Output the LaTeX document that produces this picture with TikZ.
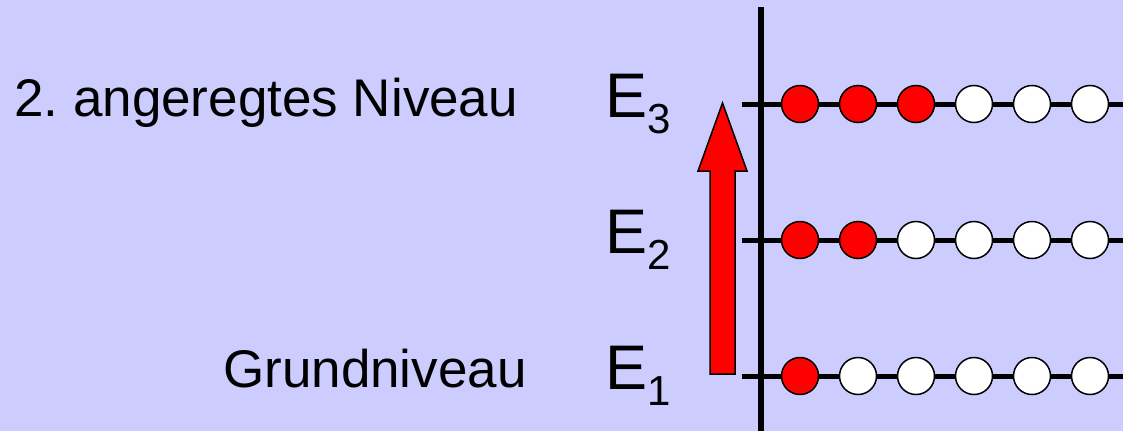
\documentclass[tikz,border=0pt]{standalone}
\usepackage{fontspec}
\setmainfont{Liberation Sans}
\definecolor{bglilac}{HTML}{CCCCFF}
\tikzset{
  dot/.style={circle, draw=black, line width=1.5pt, minimum size=37pt, inner sep=0pt},
  lbl/.style={anchor=base west, inner sep=0pt, font=\fontsize{53}{63}\selectfont},
  elbl/.style={anchor=base west, inner sep=0pt, font=\fontsize{63}{75}\selectfont}
}
\newcommand{\lev}[1]{E\raisebox{-16pt}{\fontsize{42}{50}\selectfont #1}}

\begin{document}
\begin{tikzpicture}[x=1pt,y=-1pt]
\fill[bglilac] (0,0) rectangle (1123,431);
\useasboundingbox (0,0) rectangle (1123,431);
\coordinate (axtop) at (761,7);
\coordinate (axbot) at (761,431);
\draw[line width=5.5pt] (axtop) -- (axbot);
\foreach \l/\y in {1/376,2/240,3/104} {
  \coordinate (h\l) at (742,\y);
  \coordinate (h\l end) at (1123,\y);
  \draw[line width=5pt] (h\l) -- (h\l end);
  \foreach \i in {1,...,6} {
    \ifnum\i>\l \def\col{white}\else\def\col{red}\fi
    \node[dot, fill=\col] (c\l\i) at (742+58*\i,\y) {};
  }
}
\coordinate (arrtip) at (722.5,103);
\draw[fill=red, line width=1.5pt, line join=miter] (arrtip) -- ++(24.5,68) -- ++(-12,0) -- ++(0,203) -- ++(-25,0) -- ++(0,-203) -- ++(-12,0) -- cycle;
\node[lbl] (lblexc) at (14,116) {2.\ angeregtes Niveau};
\node[lbl] (lblgnd) at (223,387) {Grundniveau};
\node[elbl] (e3) at (605,117) {\lev{3}};
\node[elbl] (e2) at (605,253) {\lev{2}};
\node[elbl] (e1) at (605,389) {\lev{1}};
\end{tikzpicture}
\end{document}
